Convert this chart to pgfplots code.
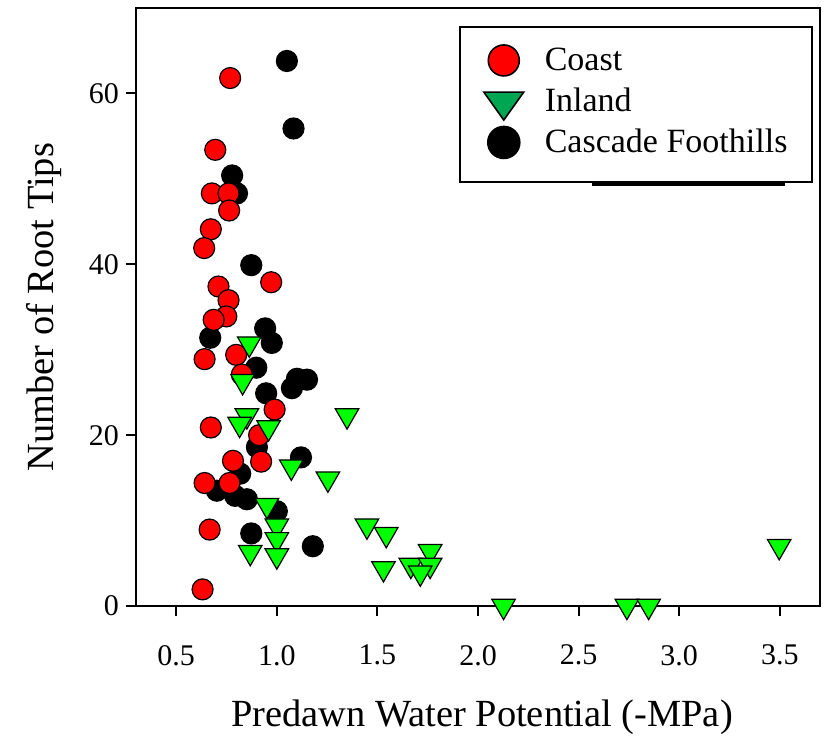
\documentclass[border=0pt]{standalone}
\usepackage{fontspec}
\setmainfont{Liberation Serif}
\usepackage{pgfplots}
\pgfplotsset{compat=1.18}
\definecolor{coastred}{RGB}{255,0,0}
\definecolor{inlandgreen}{RGB}{0,255,0}
\definecolor{legendgreen}{RGB}{0,166,81}
\pgfplotsset{
  legimg/.style={legend image code/.code={\path[draw=none,fill=none] (-10pt,-10.25pt) rectangle (10pt,10.25pt); \draw[##1] plot coordinates {(0pt,0pt)};}},
  legimglast/.style={legend image code/.code={\path[draw=none,fill=none] (-10pt,-13.5pt) rectangle (10pt,10.25pt); \draw[##1] plot coordinates {(0pt,0pt)};}},
}

\begin{document}
\begin{tikzpicture}
\begin{axis}[
  scale only axis, width=342pt, height=299pt,
  xmin=0.3, xmax=3.7, ymin=0, ymax=70,
  xtick={0.5,1.0,1.5,2.0,2.5,3.0,3.5}, ytick={0,20,40,60},
  clip=false, axis on top,
  axis line style={line width=1pt},
  tick align=outside, major tick length=5pt,
  tick style={line width=1pt, black},
  xtick pos=bottom, ytick pos=left,
  /pgf/number format/assume math mode=true,
  ticklabel style={font=\fontsize{15}{18}\selectfont},
  xticklabel style={yshift=-11pt, /pgf/number format/.cd, fixed, fixed zerofill, precision=1},
  yticklabel style={/pgf/number format/fixed},
  label style={font=\fontsize{19.2}{23}\selectfont},
  xlabel={Predawn Water Potential (-MPa)},
  ylabel={Number of Root Tips},
  xlabel style={at={(rel axis cs:0.506,-0.186)}, anchor=center},
  ylabel style={at={(rel axis cs:-0.1350,0.5)}, anchor=center},
  legend cell align=left,
  legend style={at={(rel axis cs:0.989,0.970)}, anchor=north east,
    draw=black, line width=1pt, font=\fontsize{17}{20}\selectfont,
    nodes={inner sep=0pt},
    inner xsep=12pt, inner ysep=6.5pt, row sep=0pt, column sep=10.5pt},
]
\path (rel axis cs:-0.1988,-0.2124) rectangle (rel axis cs:1.0102,1.0134);
\draw[line width=1.2pt] (rel axis cs:0.6667,0.7050) -- (rel axis cs:0.9488,0.7050);

% Cascade Foothills
\addplot[only marks, mark=*, mark size=5.25pt, forget plot,
  mark options={fill=black, draw=black, line width=0.6pt}] coordinates {
(1.050,63.8) (1.083,55.9) (0.778,50.4) (0.802,48.3) (0.873,39.9)
(0.942,32.5) (0.975,30.8) (0.669,31.4) (0.898,27.9) (1.100,26.6)
(1.150,26.5) (1.075,25.5) (0.947,24.9) (0.901,18.6) (1.120,17.4)
(0.818,15.5) (0.702,13.5) (0.793,12.9) (0.851,12.5) (1.000,11.1)
(0.873,8.5) (1.179,7.0)
};

% Coast
\addplot[only marks, mark=*, mark size=5.25pt, forget plot,
  mark options={fill=coastred, draw=black, line width=0.6pt}] coordinates {
(0.768,61.8) (0.694,53.4) (0.677,48.3) (0.760,48.3) (0.763,46.3)
(0.672,44.1) (0.639,41.9) (0.972,37.9) (0.710,37.4) (0.760,35.8)
(0.749,33.9) (0.686,33.5) (0.641,28.9) (0.798,29.4) (0.826,27.1)
(0.989,23.0) (0.672,20.9) (0.912,20.0) (0.922,16.9) (0.782,17.0)
(0.641,14.4) (0.765,14.4) (0.666,8.95) (0.631,1.95)
};

% Inland
\addplot[only marks, mark=triangle*, mark size=6.8pt, forget plot,
  mark options={rotate=180, fill=inlandgreen, draw=black, line width=0.6pt}] coordinates {
(0.863,30.7) (0.830,26.3) (0.851,22.3) (0.815,21.3) (0.959,20.9)
(1.349,22.3) (1.072,16.3) (1.254,14.9) (0.951,11.8) (1.000,9.4)
(1.000,7.8) (0.868,6.3) (1.000,5.9) (1.448,9.4) (1.544,8.4)
(1.530,4.4) (1.762,6.4) (1.666,4.8) (1.762,4.8) (1.713,3.9)
(2.127,0) (2.740,0) (2.848,0) (3.497,7.0)
};

\addlegendimage{legimg, only marks, mark=*, mark size=7.75pt,
  mark options={fill=coastred, draw=black, line width=0.8pt}}
\addlegendentry{Coast}
\addlegendimage{legimg, only marks, mark=triangle*, mark size=11.5pt,
  mark options={rotate=180, yscale=0.81, fill=legendgreen, draw=black, line width=0.8pt}}
\addlegendentry{Inland}
\addlegendimage{legimglast, only marks, mark=*, mark size=7.9pt,
  mark options={fill=black, draw=black}}
\addlegendentry{Cascade Foothills}
\end{axis}
\end{tikzpicture}
\end{document}
